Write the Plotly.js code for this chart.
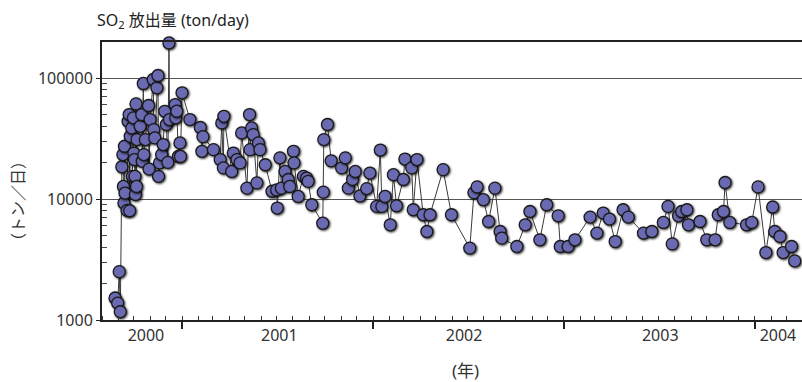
<!DOCTYPE html>
<html><head><meta charset="utf-8">
<script src="https://cdn.plot.ly/plotly-3.0.1.min.js"></script>
<style>
html,body{margin:0;padding:0;background:#fff;}
#chart{width:802px;height:382px;}
#chart .scatterlayer .points path{filter:drop-shadow(1.5px 1.8px 0.8px rgba(0,0,0,0.8));}
</style></head><body><div id="chart"></div>
<script>
const dates = [
'2000-08-26','2000-08-31','2000-09-03','2000-09-05','2000-09-08','2000-09-10','2000-09-11','2000-09-12','2000-09-13','2000-09-14',
'2000-09-18','2000-09-20','2000-09-22','2000-09-23','2000-09-24','2000-09-27','2000-09-28','2000-09-30','2000-10-01','2000-10-02',
'2000-10-03','2000-10-04','2000-10-05','2000-10-06','2000-10-07','2000-10-13','2000-10-16','2000-10-17','2000-10-19','2000-10-20',
'2000-10-23','2000-10-29','2000-10-30','2000-11-01','2000-11-07','2000-11-08','2000-11-10','2000-11-14','2000-11-16','2000-11-17',
'2000-11-19','2000-11-23','2000-11-26','2000-11-29','2000-12-02','2000-12-05','2000-12-07','2000-12-08','2000-12-19','2000-12-20',
'2000-12-22','2000-12-25','2000-12-28','2000-12-29','2001-01-01','2001-01-16','2001-02-05','2001-02-08','2001-02-10','2001-03-02',
'2001-03-15','2001-03-18','2001-03-21','2001-03-22','2001-04-06','2001-04-09','2001-04-16','2001-04-22','2001-04-25','2001-05-05',
'2001-05-10','2001-05-11','2001-05-14','2001-05-17','2001-05-24','2001-05-27','2001-05-30','2001-06-09','2001-06-22','2001-07-01',
'2001-07-02','2001-07-07','2001-07-10','2001-07-17','2001-07-23','2001-07-26','2001-08-02','2001-08-03','2001-08-11','2001-08-21',
'2001-08-27','2001-08-30','2001-09-06','2001-09-27','2001-09-28','2001-09-29','2001-10-06','2001-10-13','2001-11-02','2001-11-09',
'2001-11-15','2001-11-23','2001-11-28','2001-12-07','2001-12-20','2001-12-26','2002-01-08','2002-01-15','2002-01-18','2002-01-24',
'2002-02-03','2002-02-09','2002-02-15','2002-02-28','2002-03-03','2002-03-16','2002-03-19','2002-03-26','2002-04-07','2002-04-14',
'2002-04-20','2002-05-15','2002-05-31','2002-07-05','2002-07-13','2002-07-19','2002-07-31','2002-08-10','2002-08-22','2002-09-01',
'2002-09-04','2002-10-03','2002-10-19','2002-10-28','2002-11-16','2002-11-29','2002-12-21','2002-12-25','2003-01-09','2003-01-22',
'2003-02-20','2003-03-05','2003-03-17','2003-03-29','2003-04-09','2003-04-24','2003-05-04','2003-06-02','2003-06-18','2003-07-10',
'2003-07-19','2003-07-27','2003-08-08','2003-08-14','2003-08-24','2003-08-27','2003-09-18','2003-10-01','2003-10-17','2003-10-23',
'2003-11-02','2003-11-05','2003-11-14','2003-12-16','2003-12-26','2004-01-07','2004-01-22','2004-02-04','2004-02-08','2004-02-18',
'2004-02-24','2004-03-11','2004-03-17'
];
const so2 = [
1520,1380,2510,1170,18500,23300,12700,9270,27300,11200,
8050,44000,49900,8000,33000,38700,15400,46900,24000,21200,
15400,10900,61200,12700,31000,39900,49900,20500,90200,23300,
31000,59300,17700,45400,97300,37500,32000,83100,105000,15400,
19900,23300,28200,53100,41300,20100,195000,45400,60400,46900,
53200,22500,29100,22500,75500,45400,39000,24800,32800,25600,
21200,42600,18100,48300,16900,24000,21200,19900,35200,12300,
49900,25600,38700,34100,13600,29100,25600,19200,11600,11900,
8420,21900,12300,16900,14500,12700,24800,19900,10500,15400,
14900,14000,8970,6310,11400,31000,41300,20700,18100,21900,
12300,14500,16900,10600,12200,16400,8690,25400,8690,10500,
6120,15900,8800,14500,21400,18100,8150,21200,7410,5390,
7410,17500,7410,3930,11300,12600,9870,6520,12300,5390,
4750,4050,6120,7890,4600,8970,7270,4050,4050,4600,
7090,5230,7660,6830,4450,8150,7090,5230,5390,6400,
8690,4260,7270,7890,8150,6120,6520,4600,4600,7410,
7890,13700,6400,6120,6400,12600,3610,8590,5390,4900,
3610,4050,3080
];
const yTickVals = [1000, 10000, 100000];
const yTickText = ['1000', '10000', '100000'];
const yMinorVals = [2000,3000,4000,5000,6000,7000,8000,9000,20000,30000,40000,50000,60000,70000,80000,90000];
const yearTicks = ['2001-01-01','2002-01-01','2003-01-01','2004-01-01'];
const yearLabels = ['2000','2001','2002','2003','2004'];
const yearLabelPos = ['2000-10-24','2001-07-06','2002-06-24','2003-07-04','2004-02-14'];
const xRange = ['2000-08-01','2004-03-31'];
const yRange = [3, 5.298];
const titleText = 'SO<sub>2</sub> 放出量 (ton/day)';
const xTitle = '(年)';
const yTitle = '（トン／日）';

const fontFam = '"Noto Sans", "Noto Sans CJK JP", sans-serif';
const traces = [
  {x: dates, y: so2, type: 'scatter', mode: 'lines+markers', cliponaxis: false,
   line: {color: '#3a3a3a', width: 1},
   marker: {size: 12, color: '#6a6ab2', line: {color: '#1a1a1a', width: 1.3}},
   hoverinfo: 'x+y'},
  {x: [], y: [], xaxis: 'x2', yaxis: 'y', type: 'scatter', mode: 'markers', showlegend: false, hoverinfo: 'skip'}
];
const layout = {
  width: 802, height: 382,
  margin: {l: 102, r: 0, t: 42, b: 62},
  paper_bgcolor: '#fff', plot_bgcolor: '#fff',
  showlegend: false,
  font: {family: fontFam, size: 16, color: '#333'},
  title: {text: titleText, x: 97/802, xanchor: 'left', y: 1 - 20/382, yanchor: 'middle',
          font: {family: fontFam, size: 16, color: '#222'}},
  xaxis: {type: 'date', range: xRange, showline: true, linecolor: '#222', linewidth: 2, mirror: true,
          ticks: 'outside', ticklen: 7, tickwidth: 1.5, tickcolor: '#222',
          tickmode: 'array', tickvals: yearTicks, showticklabels: false,
          showgrid: false, zeroline: false,
          minor: {ticks: 'inside', ticklen: 4, tickwidth: 1, tickcolor: '#333', dtick: 'M1', tick0: '2000-08-01', showgrid: false}},
  xaxis2: {type: 'date', overlaying: 'x', side: 'bottom', anchor: 'y', range: xRange,
           tickmode: 'array', tickvals: yearLabelPos, ticktext: yearLabels,
           ticks: '', showline: false, showgrid: false, zeroline: false, ticklabelstandoff: 4,
           tickfont: {family: fontFam, size: 16, color: '#333'}},
  yaxis: {type: 'log', range: yRange, showline: true, linecolor: '#222', linewidth: 2,
          ticks: 'outside', ticklen: 4, tickwidth: 1.2, tickcolor: '#222',
          tickmode: 'array', tickvals: yTickVals, ticktext: yTickText,
          tickfont: {family: fontFam, size: 16, color: '#333'},
          showgrid: true, gridcolor: '#555', gridwidth: 1.2, zeroline: false,
          minor: {ticks: 'inside', ticklen: 5, tickwidth: 1, tickcolor: '#444', tickmode: 'array', tickvals: yMinorVals, showgrid: false}},
  annotations: [
    {text: yTitle, xref: 'paper', yref: 'paper', x: (18-102)/700, y: (320-201)/278,
     xanchor: 'center', yanchor: 'middle', textangle: -90, showarrow: false,
     font: {family: fontFam, size: 16, color: '#333'}},
    {text: xTitle, xref: 'paper', yref: 'paper', x: (465-102)/700, y: (320-370)/278,
     xanchor: 'center', yanchor: 'middle', showarrow: false,
     font: {family: fontFam, size: 17, color: '#333'}}
  ]
};
Plotly.newPlot('chart', traces, layout, {displayModeBar: false, responsive: false});
</script></body></html>
